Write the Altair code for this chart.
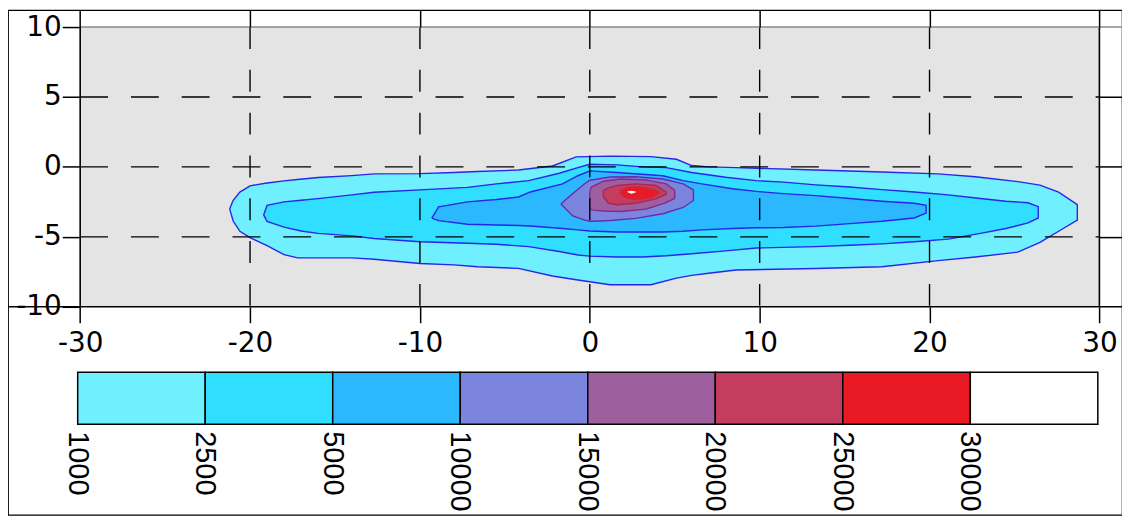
import altair as alt
import pandas as pd

# ---------------- data ----------------
X_TICKS = [-30, -20, -10, 0, 10, 20, 30]
Y_TICKS = [-10, -5, 0, 5, 10]

LEVELS = ["1000", "2500", "5000", "10000", "15000", "20000", "25000", "30000"]

# contour level 1000
L1_X = [-21.2, -21.0, -20.6, -20.0, -19.0, -18.0, -17.2, -16.0, -14.0, -12.7, -10.0, -8.0, -6.6, -4.2, -2.2,
        -0.8, 1.2, 3.6, 5.1, 6.0, 7.0, 8.6, 13.3, 17.2, 20.5, 22.7, 25.2, 26.5, 27.6, 28.7]
L1_TOP = [-3.0, -2.4, -1.8, -1.35, -1.15, -1.0, -0.9, -0.76, -0.62, -0.5, -0.48, -0.4, -0.33, -0.22, 0.07,
          0.72, 0.77, 0.74, 0.55, 0.1, 0.0, -0.05, -0.22, -0.36, -0.5, -0.7, -1.05, -1.3, -1.8, -2.7]
L1_BOT = [-3.0, -3.85, -4.6, -5.05, -5.63, -6.27, -6.5, -6.5, -6.5, -6.6, -6.9, -7.0, -7.14, -7.25, -7.8,
          -8.07, -8.42, -8.42, -7.95, -7.75, -7.6, -7.37, -7.26, -7.14, -6.7, -6.44, -6.09, -5.4, -4.6, -3.8]

# contour level 2500
L2_X = [-19.2, -19.0, -18.0, -17.0, -16.0, -14.0, -12.7, -10.0, -7.2, -5.5, -3.6, -1.8, -0.7, 0.0, 1.6,
        3.1, 4.5, 6.0, 8.0, 9.8, 11.4, 13.3, 15.3, 17.2, 19.1, 21.1, 23.0, 24.5, 25.8, 26.4]
L2_TOP = [-3.43, -2.75, -2.5, -2.38, -2.27, -2.0, -1.81, -1.64, -1.46, -1.21, -0.98, -0.45, -0.05, 0.19, 0.15,
          0.0, -0.05, -0.4, -0.74, -0.98, -1.09, -1.28, -1.44, -1.62, -1.79, -2.0, -2.26, -2.45, -2.56, -2.84]
L2_BOT = [-3.43, -3.9, -4.3, -4.58, -4.75, -4.93, -5.12, -5.35, -5.46, -5.53, -5.7, -6.05, -6.3, -6.38, -6.44,
          -6.44, -6.35, -6.21, -6.0, -5.8, -5.75, -5.7, -5.6, -5.5, -5.35, -5.16, -4.75, -4.4, -4.0, -3.65]

# contour level 5000
L3_X = [-9.3, -8.9, -7.2, -5.5, -4.2, -3.5, -1.6, -0.7, 0.0, 1.6, 4.3, 5.5, 6.6, 8.4, 9.8, 11.4, 13.3,
        15.3, 17.2, 19.1, 19.8]
L3_TOP = [-3.66, -2.85, -2.5, -2.33, -2.15, -1.79, -1.21, -0.63, -0.28, -0.4, -0.63, -0.98, -1.21, -1.56,
          -1.75, -1.91, -2.05, -2.26, -2.45, -2.6, -2.75]
L3_BOT = [-3.66, -3.84, -4.1, -4.15, -4.19, -4.22, -4.4, -4.5, -4.58, -4.65, -4.65, -4.6, -4.5, -4.4,
          -4.35, -4.33, -4.23, -4.05, -3.88, -3.65, -3.3]

# contour level 10000
L4_X = [-1.7, -1.0, -0.3, 0.0, 0.3, 1.2, 2.7, 4.3, 5.5, 6.1]
L4_TOP = [-2.65, -1.9, -1.2, -0.95, -0.9, -0.72, -0.7, -0.86, -1.21, -1.65]
L4_BOT = [-2.65, -3.5, -3.8, -3.88, -3.88, -3.83, -3.68, -3.35, -2.9, -2.4]

# contour level 15000
L5_X = [0.0, 0.1, 0.8, 1.8, 3.3, 4.5, 5.0]
L5_TOP = [-1.75, -1.44, -1.02, -0.86, -0.93, -1.21, -1.67]
L5_BOT = [-2.95, -3.07, -3.15, -3.19, -3.02, -2.55, -2.25]

# contour level 20000
L6_X = [0.8, 1.1, 1.6, 2.7, 3.9, 4.5]
L6_TOP = [-1.7, -1.5, -1.33, -1.21, -1.33, -1.8]
L6_BOT = [-2.15, -2.6, -2.7, -2.6, -2.28, -1.95]

# contour level 25000
L7_X = [1.8, 2.0, 2.3, 2.7, 3.3, 3.7, 4.1]
L7_TOP = [-1.7, -1.58, -1.44, -1.42, -1.49, -1.6, -1.79]
L7_BOT = [-1.9, -2.14, -2.25, -2.33, -2.25, -2.14, -1.85]

# contour level 30000
L8_X = [2.2, 2.45, 2.7]
L8_TOP = [-1.76, -1.7, -1.76]
L8_BOT = [-1.8, -1.92, -1.82]

CONTOURS = [
    (L1_X, L1_TOP, L1_BOT), (L2_X, L2_TOP, L2_BOT), (L3_X, L3_TOP, L3_BOT), (L4_X, L4_TOP, L4_BOT),
    (L5_X, L5_TOP, L5_BOT), (L6_X, L6_TOP, L6_BOT), (L7_X, L7_TOP, L7_BOT), (L8_X, L8_TOP, L8_BOT),
]

# ---------------- styles ----------------
FILL_COLORS = ["#70F0FF", "#30DEFF", "#2BB8FF", "#7B85DE", "#9E5F9E", "#C43C5E", "#E91A24", "#FFFFFF"]
LINE_COLORS = ["#2626E8", "#2626E8", "#2626E8", "#6A2AAA", "#86288C", "#A4285E", "#C82A3C", None]
BG_GRAY = "#E4E4E4"
AXIS_FONT = "DejaVu Sans"
CB_FONT = "Liberation Sans"

# ---------------- layout (pixels inside the framed view) ----------------
W, H = 1119, 507
PLOT_LEFT, PLOT_RIGHT, PLOT_TOP, PLOT_BOTTOM = 72.5, 1096.3, 17.0, 298.0
CB_LEFT, CB_RIGHT, CB_TOP, CB_BOTTOM = 70.0, 1094.7, 363.7, 416.0

x_per_px = (X_TICKS[-1] - X_TICKS[0]) / (PLOT_RIGHT - PLOT_LEFT)
y_per_px = (Y_TICKS[-1] - Y_TICKS[0]) / (PLOT_BOTTOM - PLOT_TOP)
X_DOMAIN = [X_TICKS[0] - PLOT_LEFT * x_per_px, X_TICKS[-1] + (W - PLOT_RIGHT) * x_per_px]
Y_DOMAIN = [Y_TICKS[0] - (H - PLOT_BOTTOM) * y_per_px, Y_TICKS[-1] + PLOT_TOP * y_per_px]

n_lev = len(LEVELS)
cx_per_px = n_lev / (CB_RIGHT - CB_LEFT)
cy_per_px = 1.0 / (CB_BOTTOM - CB_TOP)
CB_X_DOMAIN = [0 - CB_LEFT * cx_per_px, n_lev + (W - CB_RIGHT) * cx_per_px]
CB_Y_DOMAIN = [0 - (H - CB_BOTTOM) * cy_per_px, 1 + CB_TOP * cy_per_px]

xs = alt.Scale(domain=X_DOMAIN, nice=False, zero=False)
ys = alt.Scale(domain=Y_DOMAIN, nice=False, zero=False)
cbx = alt.Scale(domain=CB_X_DOMAIN, nice=False, zero=False)
cby = alt.Scale(domain=CB_Y_DOMAIN, nice=False, zero=False)

# ---------------- main panel ----------------
frame_df = pd.DataFrame({"x": [X_TICKS[0]], "x2": [X_TICKS[-1]], "y": [Y_TICKS[0]], "y2": [Y_TICKS[-1]]})

label_common = dict(labelFont=AXIS_FONT, labelFontSize=28, labelColor="black", labelFlush=False,
                    labelOverlap=False, domain=False, grid=False, tickColor="black", tickWidth=1.5,
                    labelExpr="datum.value + ''", title=None, zindex=1)

bg = alt.Chart(frame_df).mark_rect(fill=BG_GRAY).encode(
    x=alt.X("x:Q", scale=xs, axis=alt.Axis(orient="bottom", offset=-(H - PLOT_BOTTOM), values=X_TICKS,
                                           tickSize=16, labelPadding=21, labelBaseline="middle",
                                           **label_common)),
    x2="x2:Q",
    y=alt.Y("y:Q", scale=ys, axis=alt.Axis(orient="left", offset=-PLOT_LEFT, values=Y_TICKS,
                                           tickSize=18, labelPadding=1, **label_common)),
    y2="y2:Q",
)

layers = [bg]
for k, (cx, ctop, cbot) in enumerate(CONTOURS):
    adf = pd.DataFrame({"x": cx, "top": ctop, "bot": cbot})
    layers.append(
        alt.Chart(adf).mark_area(color=FILL_COLORS[k], opacity=1, interpolate="linear").encode(
            x=alt.X("x:Q", scale=xs, axis=None),
            y=alt.Y("top:Q", scale=ys, axis=None, stack=None),
            y2="bot:Q",
        )
    )
    if LINE_COLORS[k]:
        px = list(cx) + list(cx[::-1]) + [cx[0]]
        py = list(ctop) + list(cbot[::-1]) + [ctop[0]]
        ldf = pd.DataFrame({"x": px, "y": py, "i": list(range(len(px)))})
        layers.append(
            alt.Chart(ldf).mark_line(color=LINE_COLORS[k], strokeWidth=1.4, interpolate="linear").encode(
                x=alt.X("x:Q", scale=xs, axis=None),
                y=alt.Y("y:Q", scale=ys, axis=None),
                order="i:Q",
            )
        )

# dashed grid
vgrid = pd.DataFrame({"x": X_TICKS[1:-1], "y": Y_TICKS[-1], "y2": Y_TICKS[0]})
hgrid = pd.DataFrame({"y": Y_TICKS[1:-1], "x": X_TICKS[0], "x2": X_TICKS[-1]})
layers.append(
    alt.Chart(vgrid).mark_rule(color="black", strokeWidth=1.4, strokeDash=[22, 21]).encode(
        x=alt.X("x:Q", scale=xs, axis=None), y=alt.Y("y:Q", scale=ys, axis=None), y2="y2:Q")
)
layers.append(
    alt.Chart(hgrid).mark_rule(color="black", strokeWidth=1.4, strokeDash=[28, 23]).encode(
        x=alt.X("x:Q", scale=xs, axis=None), x2="x2:Q", y=alt.Y("y:Q", scale=ys, axis=None))
)

# plot box lines and the top / right tick marks
side_df = pd.DataFrame({"x": [X_TICKS[0], X_TICKS[-1]], "y": Y_TICKS[0], "y2": Y_TICKS[-1]})
layers.append(
    alt.Chart(side_df).mark_rule(color="black", strokeWidth=1.6).encode(
        x=alt.X("x:Q", scale=xs, axis=alt.Axis(orient="top", offset=-PLOT_TOP, values=X_TICKS,
                                               tickSize=PLOT_TOP, labels=False, domain=False, grid=False,
                                               tickColor="black", tickWidth=1.5, title=None, zindex=1)),
        y=alt.Y("y:Q", scale=ys, axis=alt.Axis(orient="right", offset=-(W - PLOT_RIGHT), values=Y_TICKS[1:-1],
                                               tickSize=W - PLOT_RIGHT, labels=False, domain=False, grid=False,
                                               tickColor="black", tickWidth=1.5, title=None, zindex=1)),
        y2="y2:Q",
    )
)
bottom_df = pd.DataFrame({"y": [Y_TICKS[0]]})
layers.append(
    alt.Chart(bottom_df).mark_rule(color="black", strokeWidth=1.6).encode(
        x=alt.value(0), x2=alt.value(W), y=alt.Y("y:Q", scale=ys, axis=None))
)
top_df = pd.DataFrame({"y": [Y_TICKS[-1]], "x": [X_TICKS[0]]})
layers.append(
    alt.Chart(top_df).mark_rule(color="#8A8A8A", strokeWidth=1.6).encode(
        x=alt.X("x:Q", scale=xs, axis=None), x2=alt.value(W), y=alt.Y("y:Q", scale=ys, axis=None))
)

main = alt.layer(*layers).resolve_axis(x="independent", y="independent")

# ---------------- colour bar ----------------
cb_df = pd.DataFrame({
    "lo": list(range(n_lev)),
    "hi": [i + 1 for i in range(n_lev)],
    "level": LEVELS,
    "color": FILL_COLORS,
})
cb_rect = alt.Chart(cb_df).mark_rect(stroke="black", strokeWidth=1.5).encode(
    x=alt.X("lo:Q", scale=cbx, axis=None),
    x2="hi:Q",
    y=alt.Y(datum=0, scale=cby, axis=None),
    y2=alt.datum(1),
    fill=alt.Fill("color:N", scale=None),
)
cb_text = alt.Chart(cb_df).mark_text(angle=90, align="left", baseline="middle", dx=7,
                                     font=CB_FONT, fontSize=29, color="black").encode(
    x=alt.X("lo:Q", scale=cbx, axis=None),
    y=alt.Y(datum=0, scale=cby, axis=None),
    text="level:N",
)
colorbar = alt.layer(cb_rect, cb_text)

chart = (
    alt.layer(main, colorbar)
    .resolve_scale(x="independent", y="independent")
    .properties(width=W, height=H, padding={"left": 0, "top": 1, "right": 0, "bottom": 0},
                autosize=alt.AutoSizeParams(type="none"), background="white")
    .configure_view(stroke="black", strokeWidth=1.2)
)

chart.save("out.html", embed_options={"renderer": "svg", "actions": False})
